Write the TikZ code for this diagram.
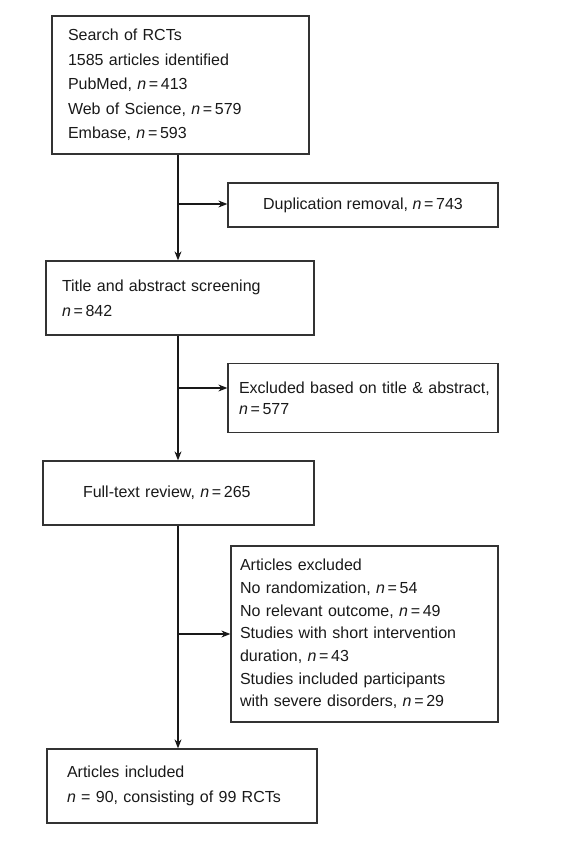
\documentclass[tikz,border=0pt]{standalone}
\usepackage{fontspec}
\setmainfont{Liberation Sans}
\usetikzlibrary{arrows.meta}
\newcommand{\nn}{\textit{n}\,=\,}
\begin{document}
\begin{tikzpicture}[x=1pt,y=-1pt,
  box/.style={draw=black!80, line width=1.3pt, rectangle, align=left, inner ysep=0pt, text=black!90},
  arr/.style={-{Stealth[length=9pt,width=7pt]}, line width=1.1pt, black!90}]
\useasboundingbox (0,0) rectangle (564,841);
\node[box, minimum width=257pt, minimum height=138pt, text width=225pt, inner xsep=16pt,
  font=\fontsize{16}{24.5}\selectfont] (b1) at (180.5,85)
  {Search of RCTs\\1585 articles identified\\PubMed, \textit{n}\,=\,413\\Web of Science, \nn579\\Embase, \nn593};
\node[box, minimum width=270pt, minimum height=44pt, align=center,
  font=\fontsize{16}{20}\selectfont] (b2) at (363,205)
  {Duplication removal, \nn743};
\node[box, minimum width=268pt, minimum height=74pt, text width=236pt, inner xsep=16pt,
  font=\fontsize{16}{25}\selectfont] (b3) at (180,298)
  {Title and abstract screening\\\nn842};
\node[box, minimum width=270pt, minimum height=69pt, text width=248pt, inner xsep=11pt,
  font=\fontsize{16}{21}\selectfont] (b4) at (363,398)
  {\mbox{Excluded based on title \& abstract,}\\\nn577};
\node[box, minimum width=271pt, minimum height=64pt, text width=191pt, inner xsep=40pt,
  font=\fontsize{16}{20}\selectfont] (b5) at (178.5,493)
  {Full-text review, \nn265};
\node[box, minimum width=267pt, minimum height=176pt, text width=249pt, inner xsep=9pt,
  font=\fontsize{16}{22.7}\selectfont] (b6) at (364.5,634)
  {Articles excluded\\No randomization, \textit{n}\,=\,54\\No relevant outcome, \nn49\\Studies with short intervention\\duration, \nn43\\Studies included participants\\with severe disorders, \nn29};
\node[box, minimum width=270pt, minimum height=74pt, text width=230pt, inner xsep=20pt,
  font=\fontsize{16}{25}\selectfont] (b7) at (182,786)
  {Articles included\\\textit{n} = 90, consisting of 99 RCTs};
\coordinate (c1) at (178,204);
\coordinate (c2) at (178,388);
\coordinate (c3) at (178,634);
\draw[arr] (b1.south -| c1) -- (b3.north -| c1);
\draw[arr] (c1) -- (c1 -| b2.west);
\draw[arr] (b3.south -| c2) -- (b5.north -| c2);
\draw[arr] (c2) -- (c2 -| b4.west);
\draw[arr] (b5.south -| c3) -- (b7.north -| c3);
\draw[arr] (c3) -- (c3 -| b6.west);
\end{tikzpicture}
\end{document}
